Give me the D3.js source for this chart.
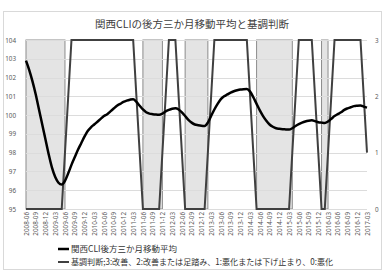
<!DOCTYPE html>
<html>
<head>
<meta charset="utf-8">
<script src="https://cdn.jsdelivr.net/npm/d3@7"></script>
<style>
body { margin: 0; background: #fff; }
svg { display: block; font-family: "Noto Sans CJK JP", "Noto Sans", sans-serif; }
</style>
</head>
<body>
<svg id="chart" width="385" height="276"></svg>
<script>
// months 2008-06 .. 2017-03
var fmt = d3.timeFormat('%Y-%m');
var months = d3.timeMonth.range(new Date(2008, 5, 1), new Date(2017, 3, 1)).map(fmt);

// 関西CLI 後方三か月移動平均
var cliValues = [
    102.9, 102.4, 101.8, 101.1, 100.3, 99.5, 98.7, 97.9, 97.2, 96.7,
    96.4, 96.3, 96.5, 96.9, 97.35, 97.75, 98.15, 98.5, 98.85, 99.15,
    99.35, 99.5, 99.65, 99.8, 99.95, 100.05, 100.2, 100.35, 100.5, 100.6,
    100.7, 100.77, 100.82, 100.85, 100.7, 100.5, 100.3, 100.15, 100.08, 100.05,
    100.03, 100.02, 100.08, 100.2, 100.28, 100.34, 100.36, 100.3, 100.15, 99.95,
    99.75, 99.6, 99.5, 99.46, 99.43, 99.42, 99.6, 99.95, 100.3, 100.6,
    100.85, 101.0, 101.1, 101.2, 101.27, 101.32, 101.36, 101.38, 101.39, 101.25,
    100.95, 100.6, 100.25, 99.95, 99.7, 99.5, 99.38, 99.3, 99.27, 99.25,
    99.24, 99.23, 99.3, 99.42, 99.52, 99.6, 99.66, 99.7, 99.72, 99.68,
    99.62, 99.6, 99.58, 99.66, 99.8, 99.95, 100.05, 100.15, 100.28, 100.36,
    100.42, 100.48, 100.5, 100.51, 100.45, 100.4
];

// 基調判断 (0..3)
var judgment = [
    0, 0, 0, 0, 0, 0, 0, 0, 0, 0,
    0, 0, 1, 2, 3, 3, 3, 3, 3, 3,
    3, 3, 3, 3, 3, 3, 3, 3, 3, 3,
    3, 3, 3, 3, 2, 1, 0, 0, 0, 0,
    0, 0, 1, 2, 3, 3, 3, 2, 1, 0,
    0, 0, 0, 0, 0, 0, 1, 2, 3, 3,
    3, 3, 3, 3, 3, 3, 3, 3, 3, 2,
    1, 0, 0, 0, 0, 0, 0, 0, 0, 0,
    0, 0, 1, 2, 3, 3, 3, 3, 3, 2,
    1, 0, 0, 1, 2, 3, 3, 3, 3, 3,
    3, 3, 3, 3, 2, 1
];

var leftTicks = [95, 96, 97, 98, 99, 100, 101, 102, 103, 104];
var rightTicks = [0, 1, 2, 3];
var title = '関西CLIの後方三か月移動平均と基調判断';
var legendNames = ['関西CLI後方三か月移動平均', '基調判断;3:改善、2:改善または足踏み、1:悪化または下げ止まり、0:悪化'];

var margin = {'top': 40, 'left': 26, 'bottom': 67, 'right': 18};
var width = 385, height = 276;

var svg = d3.select('#chart');

svg.append('rect')
    .attr('x', 3.5).attr('y', 11.5)
    .attr('width', 378).attr('height', 258)
    .attr('fill', '#fff')
    .attr('stroke', '#d9d9d9');

var x = d3.scalePoint().domain(months).range([margin.left, width - margin.right]);
var yL = d3.scaleLinear().domain([95, 104]).range([height - margin.bottom, margin.top]);
var yR = d3.scaleLinear().domain([0, 3]).range([height - margin.bottom, margin.top]);
var step = x.step();

// shaded periods where judgment == 0
var runs = [];
judgment.forEach(function(v, i) {
    if (v === 0) {
        if (runs.length && runs[runs.length - 1].end === i - 1) runs[runs.length - 1].end = i;
        else runs.push({start: i, end: i});
    }
});

svg.append('g')
    .selectAll('rect')
    .data(runs)
    .enter().append('rect')
    .attr('x', d => x(months[d.start]))
    .attr('y', yR(3))
    .attr('width', d => Math.min(x(months[d.end]) + step, width - margin.right) - x(months[d.start]))
    .attr('height', yR(0) - yR(3))
    .attr('fill', '#e4e4e4')
    .attr('stroke', '#8c8c8c')
    .attr('stroke-width', 1);

// gridlines
svg.append('g')
    .selectAll('line')
    .data(leftTicks)
    .enter().append('line')
    .attr('x1', margin.left).attr('x2', width - margin.right)
    .attr('y1', d => Math.round(yL(d)) + 0.5).attr('y2', d => Math.round(yL(d)) + 0.5)
    .attr('stroke', '#dcdcdc');

// axes
var gLeft = svg.append('g')
    .attr('transform', `translate(${margin.left},0)`)
    .call(d3.axisLeft(yL).tickValues(leftTicks).tickSize(0).tickPadding(10));
var gRight = svg.append('g')
    .attr('transform', `translate(${width - margin.right},0)`)
    .call(d3.axisRight(yR).tickValues(rightTicks).tickFormat(d3.format('d')).tickSize(0).tickPadding(8));
var gBottom = svg.append('g')
    .attr('transform', `translate(0,${height - margin.bottom})`)
    .call(d3.axisBottom(x).tickValues(months.filter((d, i) => i % 3 === 0)).tickSize(0).tickPadding(0));

gBottom.selectAll('text')
    .attr('transform', 'rotate(-90)')
    .attr('text-anchor', 'end')
    .attr('x', -3)
    .attr('y', 0)
    .attr('dy', '0.35em');

[gLeft, gRight, gBottom].forEach(function(g) {
    g.select('.domain').remove();
    g.selectAll('text').attr('fill', '#595959').attr('font-size', 6.3)
        .attr('font-family', '"Noto Sans", sans-serif');
});

// judgment line
svg.append('path')
    .datum(judgment)
    .attr('fill', 'none')
    .attr('stroke', '#404040')
    .attr('stroke-width', 2)
    .attr('d', d3.line().x((d, i) => x(months[i])).y(d => yR(d)));

// CLI line
svg.append('path')
    .datum(cliValues)
    .attr('fill', 'none')
    .attr('stroke', '#000')
    .attr('stroke-width', 2.5)
    .attr('d', d3.line().x((d, i) => x(months[i])).y(d => yL(d)).curve(d3.curveMonotoneX));

// title
svg.append('text')
    .attr('x', 192).attr('y', 28)
    .attr('text-anchor', 'middle')
    .attr('font-size', 10.5)
    .attr('fill', '#404040')
    .text(title);

// legend
var legendColors = ['#000', '#404040'];
var legendWidths = [2.5, 2];
var legendTextLen = [null, 262];
var gLegend = svg.append('g');
legendNames.forEach(function(name, i) {
    var ly = 249 + i * 13;
    gLegend.append('line')
        .attr('x1', 58).attr('x2', 69)
        .attr('y1', ly).attr('y2', ly)
        .attr('stroke', legendColors[i])
        .attr('stroke-width', legendWidths[i]);
    var t = gLegend.append('text')
        .attr('x', 71).attr('y', ly + 3)
        .attr('font-size', 8.5)
        .attr('fill', '#333')
        .text(name);
    if (legendTextLen[i]) t.attr('textLength', legendTextLen[i]).attr('lengthAdjust', 'spacingAndGlyphs');
});
</script>
</body>
</html>
